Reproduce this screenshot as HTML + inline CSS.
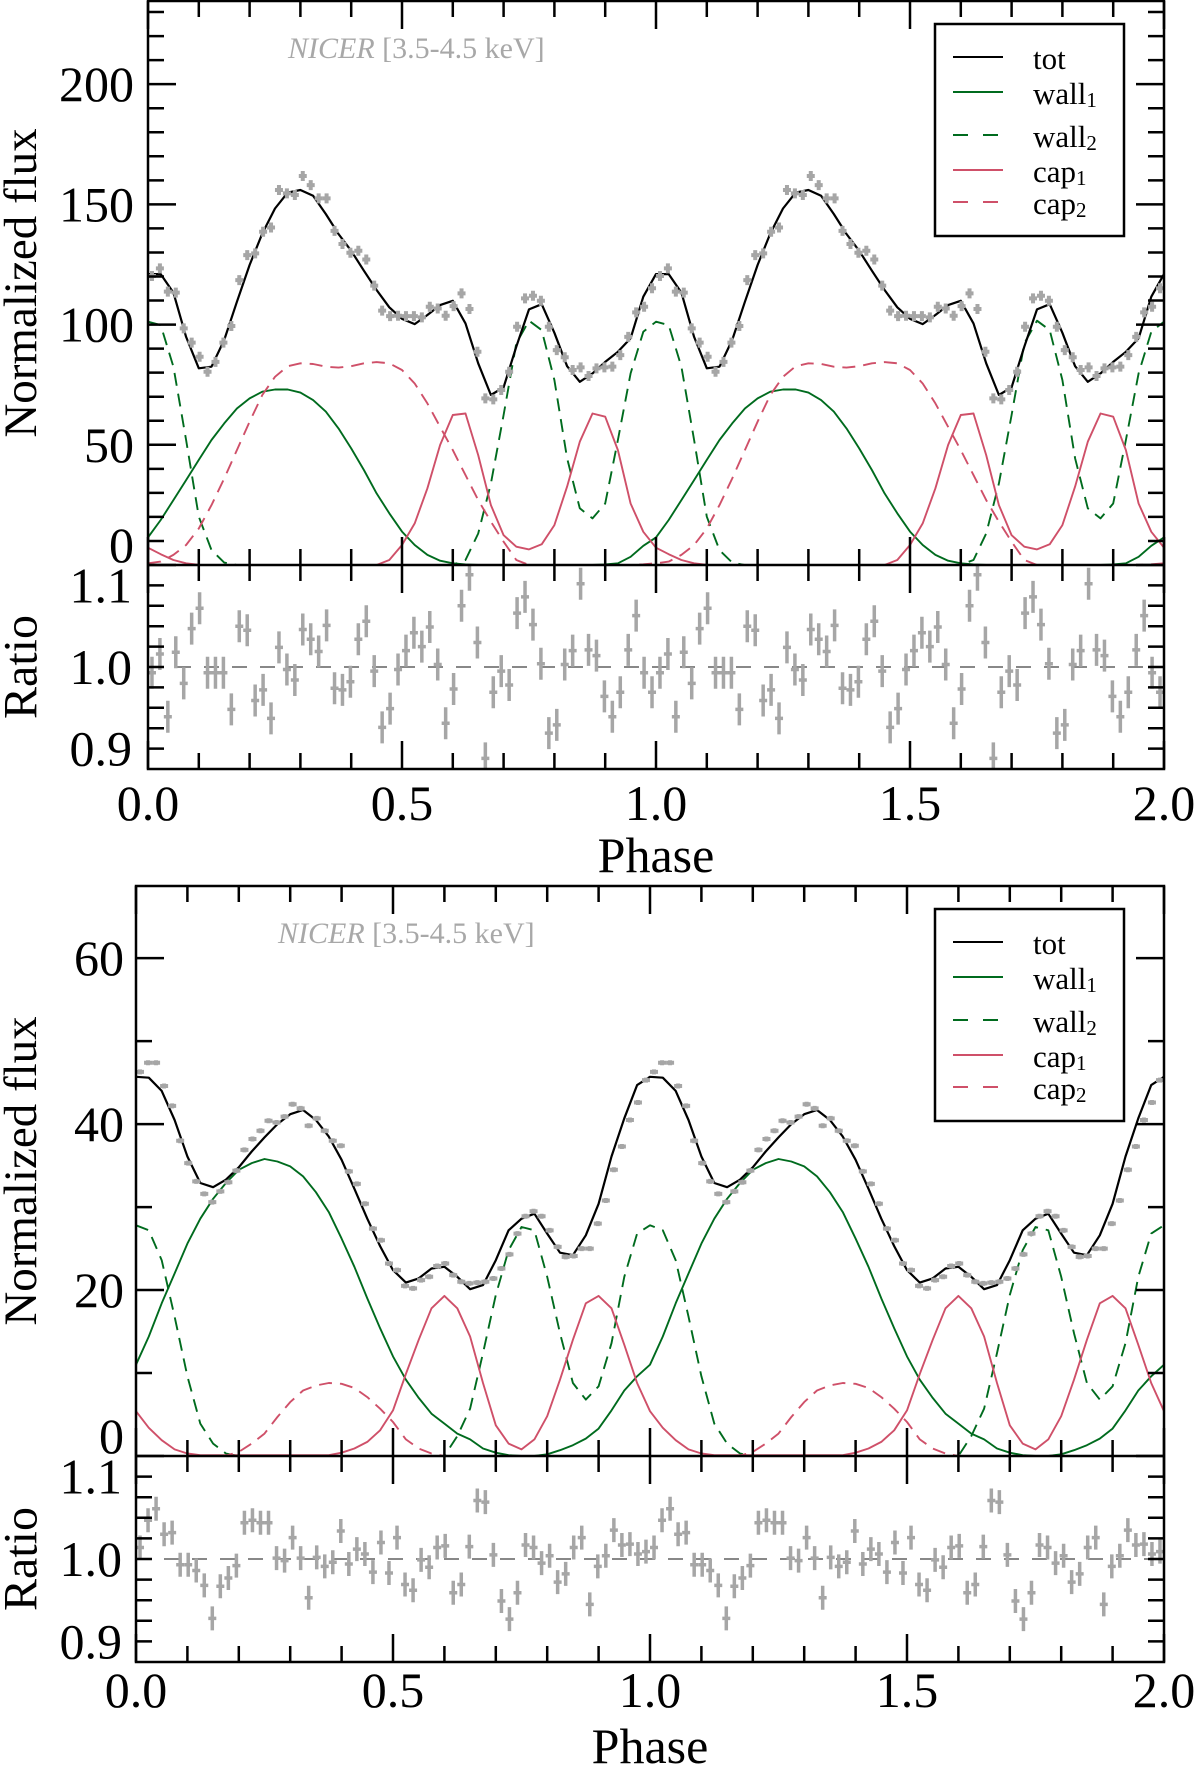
<!DOCTYPE html>
<html><head><meta charset="utf-8">
<style>
html,body{margin:0;padding:0;background:#fff;}
svg{display:block;font-family:"Liberation Serif","DejaVu Serif",serif;}
</style></head>
<body>
<svg id="fig" width="1200" height="1770" viewBox="0 0 1200 1770" xmlns="http://www.w3.org/2000/svg"></svg>
<script>
// ---------- Top panel data (one cycle, repeated for phase 1-2) ----------
const topTot   = [121.0,121.0,113.3,94.9,81.8,82.5,93.6,109.5,124.8,137.9,148.3,154.9,156.0,153.6,146.0,137.7,130.7,122.4,114.4,107.2,102.4,100.2,104.0,108.1,109.9,100.5,83.9,70.7,73.9,90.8,106.3,108.5,96.6,82.7,76.2,79.7,84.5,88.7,94.3,111.6,121.0];
const topWall1 = [11.5,18.7,27.0,35.3,43.7,52.0,58.9,65.1,69.3,72.1,73.0,73.0,71.7,68.6,63.8,56.8,48.5,39.5,29.8,21.5,13.9,8.3,4.2,1.8,0.7,0.2,0,0,0,0,0,0,0,0,0,0,0.2,0.7,3.4,8.0,11.5];
const topWall2 = [101.2,99.8,82.5,52.0,20.1,6.2,1.0,0,0,0,0,0,0,0,0,0,0,0,0,0,0,0,0,0,0.1,2.1,13.1,33.9,62.4,92.2,101.6,97.7,76.9,44.4,23.6,19.4,25.6,52.0,79.7,97.0,101.2];
const topCap1  = [7.2,4.5,2.1,0.7,0.1,0,0,0,0,0,0,0,0,0,0,0,0,0,0,2.1,8.3,17.3,31.9,49.9,62.4,63.0,45.7,24.9,12.4,7.6,6.5,8.6,16.6,32.6,51.3,63.0,61.7,47.8,25.6,13.8,7.2];
const topCap2  = [0.7,1.4,4.2,8.3,15.2,24.9,36.0,47.8,59.6,70.7,78.3,82.7,83.9,83.6,82.5,82.1,82.7,83.9,84.4,83.9,81.1,75.5,67.2,57.5,47.8,37.4,27.0,18.0,9.7,2.1,0,0,0,0,0,0,0,0,0,0.3,0.7];
const topFlux  = [120.2,123.4,113.7,113.3,98.4,92.5,86.6,80.4,84.5,92.5,99.4,118.5,128.9,129.6,138.6,140.4,156.0,154.6,153.9,161.8,158.0,152.5,152.5,139.0,133.5,129.9,130.7,127.1,116.2,105.8,103.5,103.7,103.5,103.5,103.0,107.4,106.7,103.7,107.7,113.0,106.5,88.7,69.3,68.9,72.8,80.4,99.1,110.9,112.0,109.9,99.1,89.4,86.4,81.1,82.2,78.6,81.8,82.2,82.5,87.3,94.9,105.1,107.4,115.1];
const topRatio = [0.993,1.016,0.939,1.018,0.980,1.047,1.072,0.993,0.993,0.993,0.948,1.050,1.045,0.959,0.972,0.937,1.024,0.997,0.984,1.046,1.034,1.019,1.051,0.974,0.972,0.982,1.034,1.056,0.995,0.926,0.949,0.997,1.020,1.042,1.025,1.049,1.003,0.931,0.973,1.075,1.113,1.030,0.888,0.969,0.995,0.978,1.066,1.086,1.052,1.004,0.919,0.929,1.003,1.020,1.102,1.021,1.014,0.964,0.939,0.969,1.021,1.063,0.993,0.969];
const topYTicks = ["0","50","100","150","200"];

// ---------- Bottom panel data ----------
const botTot   = [45.7,45.6,44.0,40.5,36.1,32.9,32.4,33.3,34.8,36.7,38.4,40.0,41.2,41.7,40.5,38.5,35.7,32.2,28.6,25.3,22.4,20.9,21.4,22.6,22.8,21.6,20.1,20.6,23.6,27.2,28.6,29.2,26.8,24.5,24.2,26.6,30.4,36.1,40.7,44.7,45.7];
const botWall1 = [11.0,14.4,18.4,22.0,25.6,28.6,31.0,32.9,34.5,35.3,35.8,35.5,34.9,33.7,31.8,29.4,26.2,22.8,19.0,15.4,12.0,9.2,7.0,5.1,3.9,2.7,2.0,0.9,0.4,0.1,0,0,0.2,0.7,1.3,2.1,3.3,5.5,7.9,9.6,11.0];
const botWall2 = [27.8,27.2,23.6,16.8,9.6,3.9,1.5,0.3,0,0,0,0,0,0,0,0,0,0,0,0,0,0,0,0,0,2.4,5.7,12.4,19.4,24.8,27.6,27.2,21.6,14.8,8.8,6.8,8.4,13.6,21.6,26.8,27.8];
const botCap1  = [5.4,3.4,1.9,0.8,0.3,0.1,0.1,0.1,0.1,0.1,0.1,0.1,0.1,0.1,0.1,0.1,0.4,0.9,1.7,3.1,5.5,9.9,14.0,17.8,19.3,17.8,14.4,8.8,3.7,1.5,0.8,2.0,4.8,9.2,14.0,18.4,19.3,17.8,13.4,8.8,5.4];
const botCap2  = [0,0,0,0,0,0,0,0.04,0.5,1.5,2.7,4.7,6.5,7.9,8.5,8.8,8.7,8.2,7.1,5.7,4.1,2.0,0.9,0.3,0,0,0,0,0,0,0,0,0,0,0,0,0,0,0,0,0];
const botFlux  = [46.3,47.4,47.4,44.6,42.2,38.0,35.3,33.1,31.6,30.6,31.9,33.0,34.4,36.9,38.2,39.2,40.4,40.2,40.9,42.4,41.9,39.8,40.7,39.2,38.0,37.4,34.3,32.8,30.4,27.4,26.0,23.2,22.4,20.5,20.2,21.2,21.6,22.9,23.2,21.8,21.0,20.8,20.9,21.0,21.4,22.6,24.3,26.8,28.9,29.5,28.9,27.2,25.2,24.0,24.1,25.0,25.0,28.0,30.8,34.5,37.3,40.5,42.6,45.3];
const botRatio = [1.014,1.047,1.061,1.030,1.032,0.993,0.993,0.986,0.968,0.928,0.967,0.977,0.992,1.044,1.047,1.044,1.044,1.001,0.998,1.026,1.001,0.953,1.002,0.991,0.996,1.034,0.994,1.012,1.006,0.984,1.020,0.983,1.026,0.969,0.962,0.999,0.990,1.014,1.016,0.959,0.969,1.015,1.071,1.069,1.005,0.949,0.927,0.959,1.017,1.014,0.995,1.004,0.972,0.982,1.014,1.026,0.945,0.991,1.004,1.035,1.017,1.018,1.006,1.009];
const botYTicks = ["0","20","40","60"];

const ratioTicks = ["0.9","1.0","1.1"];
const xTicks = ["0.0","0.5","1.0","1.5","2.0"];
const legendNames = ["tot","wall","wall","cap","cap"];
const legendSubs = ["","1","2","1","2"];

const NS = "http://www.w3.org/2000/svg";
const svg = document.getElementById('fig');
const GREEN = "#006b1e", RED = "#cf5069", GRAY = "#a6a6a6";

function mk(tag, attrs, parent) {
  const e = document.createElementNS(NS, tag);
  for (const k in attrs) e.setAttribute(k, attrs[k]);
  (parent || svg).appendChild(e);
  return e;
}

function panel(P) {
  const g = mk('g', {});
  
  
  const X = p => P.x0 + (P.x1 - P.x0) * p / 2;
  const Y = v => P.mBot - (P.mBot - P.mTop) * v / P.vMax;
  const R = r => P.rBot - (P.rBot - P.mBot) * (r - 0.875) / 0.25;

  const cid = P.name + '-clip';
  const defs = mk('defs', {}, g);
  const cp = mk('clipPath', {id: cid}, defs);
  mk('rect', {x: P.x0, y: P.mTop, width: P.x1 - P.x0, height: P.mBot - P.mTop}, cp);
  const cid2 = P.name + '-rclip';
  const cp2 = mk('clipPath', {id: cid2}, defs);
  mk('rect', {x: P.x0, y: P.mBot, width: P.x1 - P.x0, height: P.rBot - P.mBot}, cp2);

  const comps = [
    [P.wall1, GREEN, null, 'wall1-curve'],
    [P.wall2, GREEN, '13 8', 'wall2-curve'],
    [P.cap1, RED, null, 'cap1-curve'],
    [P.cap2, RED, '13 8', 'cap2-curve'],
    [P.tot, '#000', null, 'total-curve']
  ];
  const cg = mk('g', {'clip-path': 'url(#' + cid + ')'}, g);
  comps.forEach(c => {
    const arr = c[0];
    const n = arr.length - 1;
    let pts = [];
    for (let cyc = 0; cyc < 2; cyc++) {
      for (let i = (cyc === 0 ? 0 : 1); i <= n; i++) {
        pts.push(X(cyc + i / n).toFixed(1) + ',' + Y(arr[i]).toFixed(1));
      }
    }
    const pl = mk('polyline', {points: pts.join(' '), fill: 'none', stroke: c[1], 'stroke-width': c[3] === 'total-curve' ? 2.2 : 1.9, 'stroke-linejoin': 'round'}, cg);
    if (c[2]) pl.setAttribute('stroke-dasharray', c[2]);
    
    
  });

  const dg = mk('g', {}, g);
  
  
  const nb = P.flux.length;
  for (let cyc = 0; cyc < 2; cyc++) {
    for (let i = 0; i < nb; i++) {
      const cx = X(cyc + (i + 0.5) / nb), cy = Y(P.flux[i]);
      const pt = mk('path', {d: `M${cx - 4},${cy}H${cx + 4}M${cx},${cy - P.fe}V${cy + P.fe}`, stroke: GRAY, 'stroke-width': 4, fill: 'none'}, dg);
      
      
    }
  }

  const rl = mk('line', {x1: P.x0, x2: P.x1, y1: R(1), y2: R(1), stroke: '#888', 'stroke-width': 2, 'stroke-dasharray': '15 13'}, g);
  
  

  const rg = mk('g', {'clip-path': 'url(#' + cid2 + ')'}, g);
  
  
  for (let cyc = 0; cyc < 2; cyc++) {
    for (let i = 0; i < P.ratio.length; i++) {
      const cx = X(cyc + (i + 0.5) / P.ratio.length), cy = R(P.ratio[i]);
      const pt = mk('path', {d: `M${cx - 4},${cy}H${cx + 4}M${cx},${cy - P.re}V${cy + P.re}`, stroke: GRAY, 'stroke-width': 3.5, fill: 'none'}, rg);
      
      
    }
  }

  let d = '';
  for (let k = 0; k <= 20; k++) {
    const x = X(k / 10);
    const L = (k % 5 === 0) ? 28 : 16;
    d += `M${x},${P.mTop}v${L}M${x},${P.mBot}v${-L}M${x},${P.mBot}v${L}M${x},${P.rBot}v${-L}`;
  }
  for (let v = 0; v <= P.vMax; v += 10) {
    const y = Y(v);
    const L = (v % P.yMajor === 0) ? 28 : 16;
    d += `M${P.x0},${y}h${L}M${P.x1},${y}h${-L}`;
  }
  for (let k = 0; k <= 8; k++) {
    const y = R(0.9 + k * 0.025);
    d += `M${P.x0},${y}h16M${P.x1},${y}h-16`;
  }
  const tk = mk('path', {d: d, stroke: '#000', 'stroke-width': 2.5, fill: 'none'}, g);
  
  

  const fr = mk('rect', {x: P.x0, y: P.mTop, width: P.x1 - P.x0, height: P.rBot - P.mTop, fill: 'none', stroke: '#000', 'stroke-width': 2.5}, g);
  
  
  const dv = mk('line', {x1: P.x0, x2: P.x1, y1: P.mBot, y2: P.mBot, stroke: '#000', 'stroke-width': 2.5}, g);
  
  

  P.yTicks.forEach((t, i) => {
    let y = Y(+t);
    if (+t === 0) y -= 20;
    const tx = mk('text', {x: P.labR, y: y, 'text-anchor': 'end', 'dominant-baseline': 'central', 'font-size': 50}, g);
    tx.textContent = t;
    
    
  });
  ratioTicks.forEach(t => {
    const tx = mk('text', {x: P.labR - 2, y: R(+t), 'text-anchor': 'end', 'dominant-baseline': 'central', 'font-size': 50}, g);
    tx.textContent = t;
    
    
  });
  xTicks.forEach(t => {
    const tx = mk('text', {x: X(+t), y: P.xLabY, 'text-anchor': 'middle', 'dominant-baseline': 'central', 'font-size': 50}, g);
    tx.textContent = t;
    
    
  });
  const ph = mk('text', {x: (P.x0 + P.x1) / 2, y: P.phY, 'text-anchor': 'middle', 'dominant-baseline': 'central', 'font-size': 50}, g);
  ph.textContent = 'Phase';
  
  
  const ny = (P.mTop + P.mBot) / 2;
  const nf = mk('text', {x: 0, y: 0, transform: `translate(21,${ny}) rotate(-90)`, 'text-anchor': 'middle', 'dominant-baseline': 'central', 'font-size': 47}, g);
  nf.textContent = 'Normalized flux';
  
  
  const ry = R(1);
  const rt = mk('text', {x: 0, y: 0, transform: `translate(21,${ry}) rotate(-90)`, 'text-anchor': 'middle', 'dominant-baseline': 'central', 'font-size': 48}, g);
  rt.textContent = 'Ratio';
  
  

  const an = mk('text', {x: P.nicerX, y: P.nicerY, 'font-size': 30, fill: '#a8a8a8', 'dominant-baseline': 'central'}, g);
  
  
  const it = mk('tspan', {'font-style': 'italic'}, an); it.textContent = 'NICER';
  const rs = mk('tspan', {}, an); rs.textContent = ' [3.5-4.5 keV]';

  const lg = mk('g', {}, g);
  
  
  mk('rect', {x: 935, y: P.legTop, width: 189, height: 212, fill: '#fff', stroke: '#000', 'stroke-width': 2.5}, lg);
  const offs = [33, 68, 111, 146, 178];
  const cols = ['#000', GREEN, GREEN, RED, RED];
  const dash = [null, null, '15 15', null, '15 15'];
  legendNames.forEach((nm, i) => {
    const yy = P.legTop + offs[i];
    const ln = mk('line', {x1: 953, x2: 1003, y1: yy, y2: yy, stroke: cols[i], 'stroke-width': 2}, lg);
    if (dash[i]) ln.setAttribute('stroke-dasharray', dash[i]);
    
    
    const tx = mk('text', {x: 1033, y: yy + 1, 'font-size': 31, 'dominant-baseline': 'central'}, lg);
    
    
    const a = mk('tspan', {}, tx); a.textContent = nm;
    if (legendSubs[i]) { const s = mk('tspan', {'font-size': 21, dy: 7}, tx); s.textContent = legendSubs[i]; }
  });
}

panel({name: 'top-panel', x0: 148, x1: 1164, mTop: 1, mBot: 565, vMax: 234.6, rBot: 769, yMajor: 50,
  tot: topTot, wall1: topWall1, wall2: topWall2, cap1: topCap1, cap2: topCap2,
  flux: topFlux, ratio: topRatio, fe: 5, re: 16, yTicks: topYTicks, labR: 134,
  xLabY: 803, phY: 855, nicerX: 288, nicerY: 48, legTop: 24});
panel({name: 'bottom-panel', x0: 136, x1: 1164, mTop: 886, mBot: 1456, vMax: 68.7, rBot: 1662, yMajor: 20,
  tot: botTot, wall1: botWall1, wall2: botWall2, cap1: botCap1, cap2: botCap2,
  flux: botFlux, ratio: botRatio, fe: 2.5, re: 12, yTicks: botYTicks, labR: 124,
  xLabY: 1690, phY: 1746, nicerX: 278, nicerY: 933, legTop: 909});
</script>
</body></html>
